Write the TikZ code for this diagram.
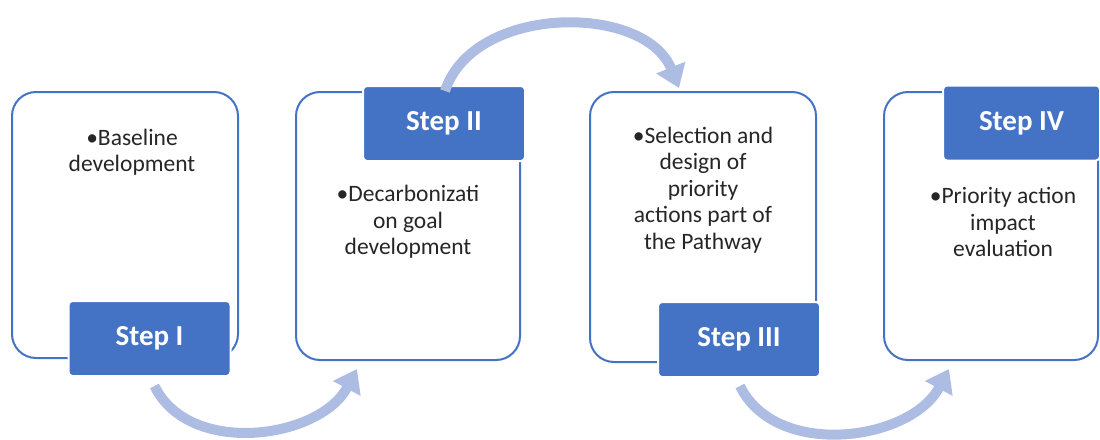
\documentclass[tikz,border=0pt]{standalone}
\usepackage{fontspec}
\setmainfont{Carlito}
\usetikzlibrary{arrows.meta,positioning}

\definecolor{stepBlue}{RGB}{68,114,196}
\definecolor{flowBlue}{RGB}{172,188,226}

\tikzset{
    stage/.style={draw=stepBlue, line width=2pt, fill=white, rounded corners=24pt, inner sep=0pt},
    tag/.style={fill=stepBlue, draw=white, line width=2pt, rounded corners=4pt, text=white,
        minimum width=162pt, minimum height=75pt, font=\fontsize{29}{34}\selectfont\bfseries},
    body/.style={align=center, font=\fontsize{23.5}{26.5}\selectfont, text=black!85},
    flow/.style={draw=flowBlue, line width=10pt, -{Triangle[width=30pt,length=22pt]}}
}

\begin{document}
\begin{tikzpicture}[x=1pt, y=-1pt]
    \useasboundingbox (0,0) rectangle (1100,439);

    % the four boxes
    \node[stage, minimum width=226pt, minimum height=266pt] (b1) at (125,225) {};
    \node[stage, minimum width=224pt, minimum height=268pt] (b2) at (408,226) {};
    \node[stage, minimum width=226pt, minimum height=270pt] (b3) at (703,227) {};
    \node[stage, minimum width=214pt, minimum height=268pt] (b4) at (991,226) {};

    % step tags
    \node[tag] (t1) at (149.5,338.5) {Step I};
    \node[tag] (t2) at (444,123.5) {Step II};
    \node[tag] (t3) at (739,339.5) {Step III};
    \node[tag, minimum width=157pt] (t4) at (1021.5,123) {Step IV};

    % box texts
    \node[body] (x1) at (132,152) {•Baseline\\development};
    \node[body] (x2) at (408,222) {•Decarbonizati\\on goal\\development};
    \node[body] (x3) at (703,190) {•Selection and\\design of\\priority\\actions part of\\the Pathway};
    \node[body] (x4) at (1003,222) {•Priority action\\impact\\evaluation};

    % curved arrows
    \draw[flow] ([xshift=5pt,yshift=-9pt]t1.south) to[out=-64, in=-118] ([xshift=62pt,yshift=-8pt]b2.south west);
    \draw[flow] ([xshift=1pt,yshift=-6pt]t2.north) to[out=72, in=112] ([xshift=90pt,yshift=3pt]b3.north west);
    \draw[flow] ([xshift=1pt,yshift=-8pt]t3.south) to[out=-64, in=-118] ([xshift=66pt,yshift=-8pt]b4.south west);
\end{tikzpicture}
\end{document}
